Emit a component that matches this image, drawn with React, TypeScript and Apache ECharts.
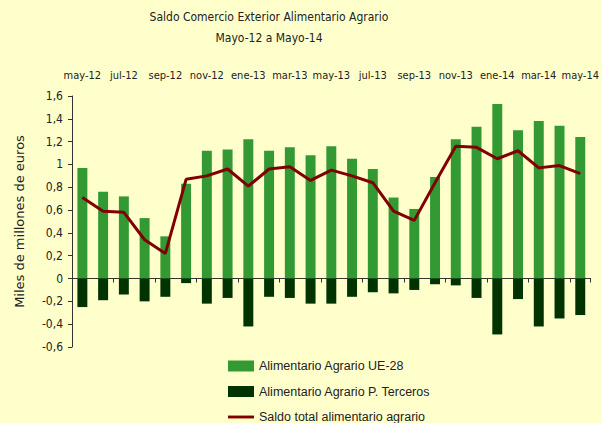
import React, { useEffect, useRef } from "react";
import * as echarts from "echarts";

const categories = [
  "may-12", "jun-12", "jul-12", "ago-12", "sep-12", "oct-12", "nov-12", "dic-12",
  "ene-13", "feb-13", "mar-13", "abr-13", "may-13", "jun-13", "jul-13", "ago-13",
  "sep-13", "oct-13", "nov-13", "dic-13", "ene-14", "feb-14", "mar-14", "abr-14", "may-14",
];
const ue28 = [0.97, 0.76, 0.72, 0.53, 0.37, 0.83, 1.12, 1.13, 1.22, 1.12, 1.15, 1.08, 1.16, 1.05, 0.96, 0.71, 0.61, 0.89, 1.22, 1.33, 1.53, 1.30, 1.38, 1.34, 1.24];
const terceros = [-0.25, -0.19, -0.14, -0.20, -0.16, -0.04, -0.22, -0.17, -0.42, -0.16, -0.17, -0.22, -0.22, -0.16, -0.12, -0.13, -0.10, -0.05, -0.06, -0.17, -0.49, -0.18, -0.42, -0.35, -0.32];
const saldo = [0.71, 0.59, 0.58, 0.34, 0.22, 0.87, 0.90, 0.96, 0.81, 0.96, 0.98, 0.86, 0.95, 0.90, 0.84, 0.59, 0.51, 0.84, 1.16, 1.15, 1.05, 1.12, 0.97, 0.99, 0.92];

const seriesNames = ["Alimentario Agrario UE-28", "Alimentario Agrario P. Terceros", "Saldo total alimentario agrario"];
const titleLines = ["Saldo Comercio Exterior Alimentario Agrario", "Mayo-12 a Mayo-14"];
const yAxisName = "Miles de millones de euros";

const NARROW = "'Liberation Sans Narrow', 'DejaVu Sans Condensed', 'Liberation Sans', sans-serif";
const legendTops = [359, 384.5, 410];

export default function App() {
  const ref = useRef<HTMLDivElement>(null);
  useEffect(() => {
    if (!ref.current) return;
    const chart = echarts.init(ref.current, null, { renderer: "svg" });
    const legendBase = {
      orient: "horizontal",
      left: 228,
      padding: 0,
      itemWidth: 26,
      itemHeight: 11,
      textStyle: { fontFamily: "'Liberation Sans', Arial, sans-serif", fontSize: 12.5, color: "#222", lineHeight: 14 },
    };
    chart.setOption({
      animation: false,
      backgroundColor: "#FFFFCC",
      graphic: [
        {
          type: "text",
          x: 269,
          y: 17,
          style: { text: titleLines[0], textAlign: "center", textVerticalAlign: "middle", fill: "#222", font: `12px ${NARROW}` },
        },
        {
          type: "text",
          x: 269,
          y: 38,
          style: { text: titleLines[1], textAlign: "center", textVerticalAlign: "middle", fill: "#222", font: `12px ${NARROW}` },
        },
      ],
      legend: [
        { ...legendBase, top: legendTops[0], data: [{ name: seriesNames[0], icon: "rect" }] },
        { ...legendBase, top: legendTops[1], data: [{ name: seriesNames[1], icon: "rect" }] },
        { ...legendBase, top: legendTops[2], data: [{ name: seriesNames[2], icon: "path://M0,0L27,0L27,3L0,3Z" }] },
      ],
      grid: { left: 72, right: 10, top: 96, bottom: 76, containLabel: false },
      xAxis: [
        {
          type: "category",
          data: categories,
          position: "bottom",
          axisLine: { show: true, onZero: true, lineStyle: { color: "#333", width: 1 } },
          axisTick: { show: true, interval: 1, length: 4, lineStyle: { color: "#333" } },
          axisLabel: { show: false },
          splitLine: { show: false },
        },
        {
          type: "category",
          data: categories,
          position: "top",
          axisLine: { show: false, onZero: false },
          axisTick: { show: false },
          axisLabel: { show: true, interval: 1, margin: 15, color: "#222", fontFamily: NARROW, fontSize: 11 },
          splitLine: { show: false },
        },
      ],
      yAxis: {
        type: "value",
        min: -0.6,
        max: 1.6,
        interval: 0.2,
        name: yAxisName,
        nameLocation: "middle",
        nameRotate: 90,
        nameGap: 46,
        nameTextStyle: { fontFamily: "'DejaVu Sans', sans-serif", fontSize: 13, color: "#222" },
        axisLine: { show: true, lineStyle: { color: "#333" } },
        axisTick: { show: true, length: 4, lineStyle: { color: "#333" } },
        splitLine: { show: false },
        axisLabel: {
          margin: 9,
          color: "#222",
          fontFamily: NARROW,
          fontSize: 12,
          formatter: (v: number) => String(Number(v.toFixed(1))).replace(".", ","),
        },
      },
      series: [
        {
          name: seriesNames[0],
          type: "bar",
          stack: "total",
          xAxisIndex: 0,
          barWidth: "48%",
          data: ue28,
          itemStyle: { color: "#339933" },
        },
        {
          name: seriesNames[1],
          type: "bar",
          stack: "total",
          xAxisIndex: 0,
          barWidth: "48%",
          data: terceros,
          itemStyle: { color: "#003300" },
        },
        {
          name: seriesNames[2],
          type: "line",
          xAxisIndex: 0,
          data: saldo,
          symbol: "none",
          lineStyle: { color: "#800000", width: 3 },
          itemStyle: { color: "#800000" },
          z: 5,
        },
      ],
    });
    return () => chart.dispose();
  }, []);
  return <div ref={ref} style={{ position: "fixed", left: 0, top: 0, width: 602, height: 423 }} />;
}
